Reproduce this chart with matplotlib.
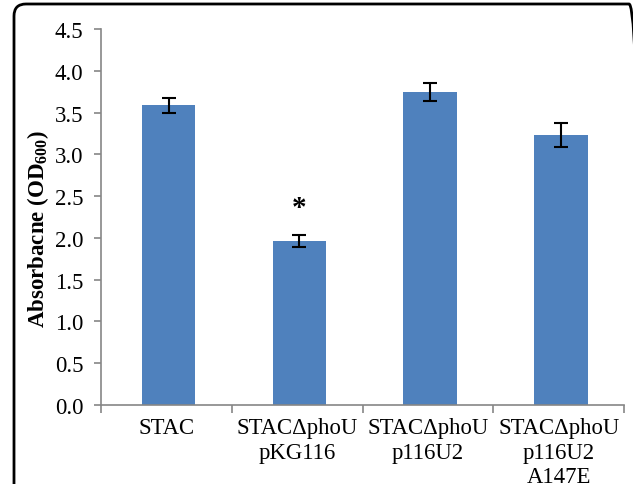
import numpy as np
from matplotlib import pyplot as plt
from matplotlib.patches import FancyBboxPatch

strains = ['STAC', 'STAC\u0394phoU\npKG116', 'STAC\u0394phoU\np116U2', 'STAC\u0394phoU\np116U2\nA147E']
absorbance = [3.59, 1.96, 3.75, 3.23]
errors = [0.09, 0.07, 0.11, 0.14]
y_ticks = [0.0, 0.5, 1.0, 1.5, 2.0, 2.5, 3.0, 3.5, 4.0, 4.5]
star_index = 1

plt.rcParams['font.family'] = ['Liberation Serif', 'DejaVu Serif']
plt.rcParams['mathtext.fontset'] = 'custom'
plt.rcParams['mathtext.rm'] = 'Liberation Serif'
plt.rcParams['mathtext.bf'] = 'Liberation Serif:bold'

fig = plt.figure(figsize=(6.33, 4.85), dpi=100)
ax = fig.add_axes([0.160, 0.163, 0.826, 0.775])

x = np.arange(len(strains))
ax.bar(x + 0.015, absorbance, width=0.41, color='#4F81BD', zorder=2)
ax.errorbar(x + 0.015, absorbance, yerr=errors, fmt='none', ecolor='black',
            elinewidth=1.5, capsize=5, capthick=1.5, zorder=3)
ax.text(star_index + 0.015, absorbance[star_index] + errors[star_index] + 0.17, '*',
        ha='center', va='bottom', fontsize=21, fontweight='bold')

ax.set_xlim(-0.5, len(strains) - 0.5)
ax.set_ylim(0, 4.5)
ax.set_yticks(y_ticks)
ax.set_yticklabels([f'{v:.1f}' for v in y_ticks])
ax.set_xticks(x)
ax.set_xticklabels(strains)
ax.set_xticks(np.arange(-0.5, len(strains)), minor=True)
ax.tick_params(axis='x', which='major', length=0, pad=9, labelsize=16.4)
ax.tick_params(axis='x', which='minor', length=6, color='#868686', width=1.2)
ax.tick_params(axis='y', length=5, color='#868686', width=1.2, labelsize=16.4, pad=8)
for lbl in ax.get_xticklabels():
    lbl.set_linespacing(1.22)

for side in ['top', 'right']:
    ax.spines[side].set_visible(False)
for side in ['left', 'bottom']:
    ax.spines[side].set_color('#868686')
    ax.spines[side].set_linewidth(1.2)

ax.set_ylabel(r'Absorbacne (OD$_{\mathbf{600}}$)', fontsize=16.5, fontweight='bold')
ax.yaxis.set_label_coords(-0.096, 0.47)

frame = FancyBboxPatch((0.14, -1.0), 6.27, 5.80,
                       boxstyle='round,pad=0,rounding_size=0.12',
                       transform=fig.dpi_scale_trans, fill=False,
                       edgecolor='black', linewidth=2, clip_on=False)
fig.patches.append(frame)

fig.savefig('out.png', dpi=100)
